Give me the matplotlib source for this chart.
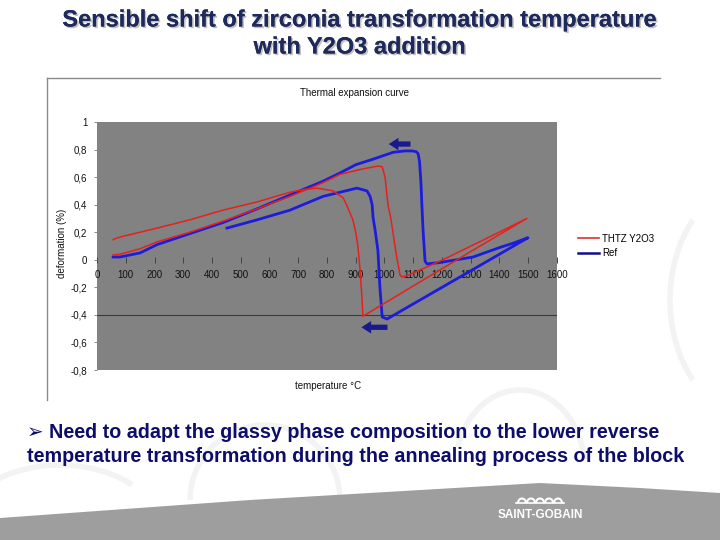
import numpy as np
import matplotlib
matplotlib.use("Agg")
import matplotlib.pyplot as plt
from matplotlib.patches import Polygon, Arc
from matplotlib import patheffects

plt.rcParams['font.family'] = ['Liberation Sans', 'DejaVu Sans']

# THTZ Y2O3 : heating then cooling, one loop
red_T = [56, 80, 150, 209, 323, 438, 557, 671, 730, 786, 845, 915, 950, 977, 992, 1002,
         1012, 1023, 1040, 1054, 1061, 1085, 1203, 1350, 1495,
         1300, 1100, 925, 922, 915, 908, 900, 890, 870, 856, 821, 765, 720, 671, 557,
         438, 323, 209, 150, 90, 65, 56]
red_d = [0.035, 0.04, 0.08, 0.13, 0.20, 0.28, 0.37, 0.46, 0.51, 0.56, 0.62, 0.655, 0.67, 0.68, 0.675, 0.60,
         0.40, 0.29, 0.05, -0.11, -0.125, -0.11, 0.0, 0.15, 0.30,
         0.06, -0.19, -0.41, -0.29, -0.07, 0.09, 0.20, 0.29, 0.39, 0.45, 0.50, 0.52, 0.51, 0.49, 0.42,
         0.36, 0.29, 0.23, 0.20, 0.17, 0.155, 0.145]

# Ref
blue_T = [56, 80, 150, 209, 323, 438, 557, 671, 786, 845, 900, 960, 1030, 1070, 1096, 1110,
          1117, 1122, 1127, 1130, 1134, 1141, 1148, 1193, 1250, 1308, 1402, 1447, 1499,
          1250, 1009, 992, 984, 977, 967, 960, 957, 950, 939, 904, 845, 786, 671, 557, 452]
blue_d = [0.02, 0.02, 0.05, 0.11, 0.19, 0.27, 0.37, 0.47, 0.57, 0.63, 0.69, 0.73, 0.78, 0.79, 0.79, 0.785,
          0.77, 0.71, 0.55, 0.40, 0.22, -0.01, -0.03, -0.02, 0.0, 0.02, 0.09, 0.12, 0.16,
          -0.14, -0.43, -0.415, -0.2, 0.07, 0.22, 0.31, 0.40, 0.46, 0.50, 0.52, 0.49, 0.46, 0.36, 0.29, 0.23]

x_ticks = list(range(0, 1700, 100))
y_ticks = [-0.8, -0.6, -0.4, -0.2, 0, 0.2, 0.4, 0.6, 0.8, 1]
y_labels = ['-0,8', '-0,6', '-0,4', '-0,2', '0', '0,2', '0,4', '0,6', '0,8', '1']

fig = plt.figure(figsize=(7.2, 5.4), dpi=100)

# slide background
bg = fig.add_axes([0, 0, 1, 1])
bg.set_xlim(0, 720)
bg.set_ylim(540, 0)
bg.axis('off')

for cx, cy, w, h, t1, t2 in [(265, 500, 150, 150, 180, 360), (60, 545, 220, 160, 200, 320),
                             (760, 300, 180, 240, 130, 230), (520, 470, 130, 160, 200, 350)]:
    bg.add_patch(Arc((cx, cy), w, h, theta1=t1, theta2=t2, color='#f3f3f3', lw=4))

band = Polygon([(0, 518), (250, 500), (540, 483), (640, 488), (720, 493), (720, 540), (0, 540)],
               closed=True, color='#9e9e9e', lw=0)
bg.add_patch(band)

# Saint-Gobain logo
bg.text(540, 515, 'SAINT-GOBAIN', color='white', fontsize=8.5, fontweight='bold',
        ha='center', va='center', family=['Liberation Sans Narrow', 'Liberation Sans'])
for i in range(5):
    bg.add_patch(Arc((522 + i * 9, 503), 8, 9, theta1=180, theta2=360, color='white', lw=1.5))
bg.plot([516, 564], [503, 503], color='white', lw=1.2)

shadow = [patheffects.withSimplePatchShadow(offset=(1.2, -1.2), shadow_rgbFace='#9a9a9a', alpha=0.6),
          patheffects.Normal()]
for y, line in [(20, 'Sensible shift of zirconia transformation temperature'),
                (47, 'with Y2O3 addition')]:
    t = bg.text(360, y, line, ha='center', va='center', fontsize=17, fontweight='bold',
                color='#1f2a5c')
    t.set_path_effects(shadow)

bg.text(27, 433, '\u27a2 Need to adapt the glassy phase composition to the lower reverse',
        ha='left', va='center', fontsize=14.2, fontweight='bold', color='#0d0d6b')
bg.text(27, 457, 'temperature transformation during the annealing process of the block',
        ha='left', va='center', fontsize=14.2, fontweight='bold', color='#0d0d6b')

# chart frame
bg.plot([47, 660], [78, 78], color='#8a8a8a', lw=1)
bg.plot([47, 47], [78, 400], color='#8a8a8a', lw=1)
bg.text(355, 93, 'Thermal expansion curve', ha='center', va='center', fontsize=7, color='#111111')
bg.text(62, 243, 'deformation (%)', ha='center', va='center', rotation=90, fontsize=7, color='#111111')
bg.text(328, 386, 'temperature \u00b0C', ha='center', va='center', fontsize=7, color='#111111')

# chart
ax = fig.add_axes([97 / 720, 1 - 370 / 540, 460 / 720, 248 / 540])
ax.set_facecolor('#828282')
ax.set_xlim(0, 1600)
ax.set_ylim(-0.8, 1.0)
for s in ['top', 'right', 'left']:
    ax.spines[s].set_visible(False)
ax.spines['bottom'].set_position(('data', 0))
ax.spines['bottom'].set_visible(False)
ax.set_xticks(x_ticks)
ax.set_xticklabels([str(t) for t in x_ticks])
ax.tick_params(axis='x', direction='inout', length=5, width=0.7, color='#444444',
               labelsize=7, labelcolor='#111111', pad=5)
ax.set_yticks(y_ticks)
ax.set_yticklabels(y_labels)
ax.tick_params(axis='y', direction='out', length=2, width=0.6, color='#777777',
               labelsize=7, labelcolor='#111111', pad=5)
ax.axhline(-0.4, color='#3a3a3a', lw=0.8, zorder=1)

ax.plot(red_T, red_d, color='#e8201c', lw=1.1, zorder=3, label='THTZ Y2O3')
ax.plot(blue_T, blue_d, color='#1c1cdc', lw=2.0, zorder=2, label='Ref')

arrow_style = dict(arrowstyle='simple,head_length=0.7,head_width=0.9,tail_width=0.38',
                   color='#1a1a8c', lw=0)
ax.annotate('', xy=(1005, 0.84), xytext=(1100, 0.84), arrowprops=arrow_style,
            annotation_clip=False)
ax.annotate('', xy=(910, -0.49), xytext=(1020, -0.49), arrowprops=arrow_style,
            annotation_clip=False)

h_red = plt.Line2D([], [], color='#e03030', lw=1.2)
h_blue = plt.Line2D([], [], color='#10108a', lw=1.8)
fig.legend([h_red, h_blue], ['THTZ Y2O3', 'Ref'], loc='center left',
           bbox_to_anchor=(574 / 720, 1 - 246 / 540), frameon=False, fontsize=7,
           handlelength=2.2, handletextpad=0.3, labelspacing=0.5, borderaxespad=0)

fig.savefig('out.png', dpi=100)
